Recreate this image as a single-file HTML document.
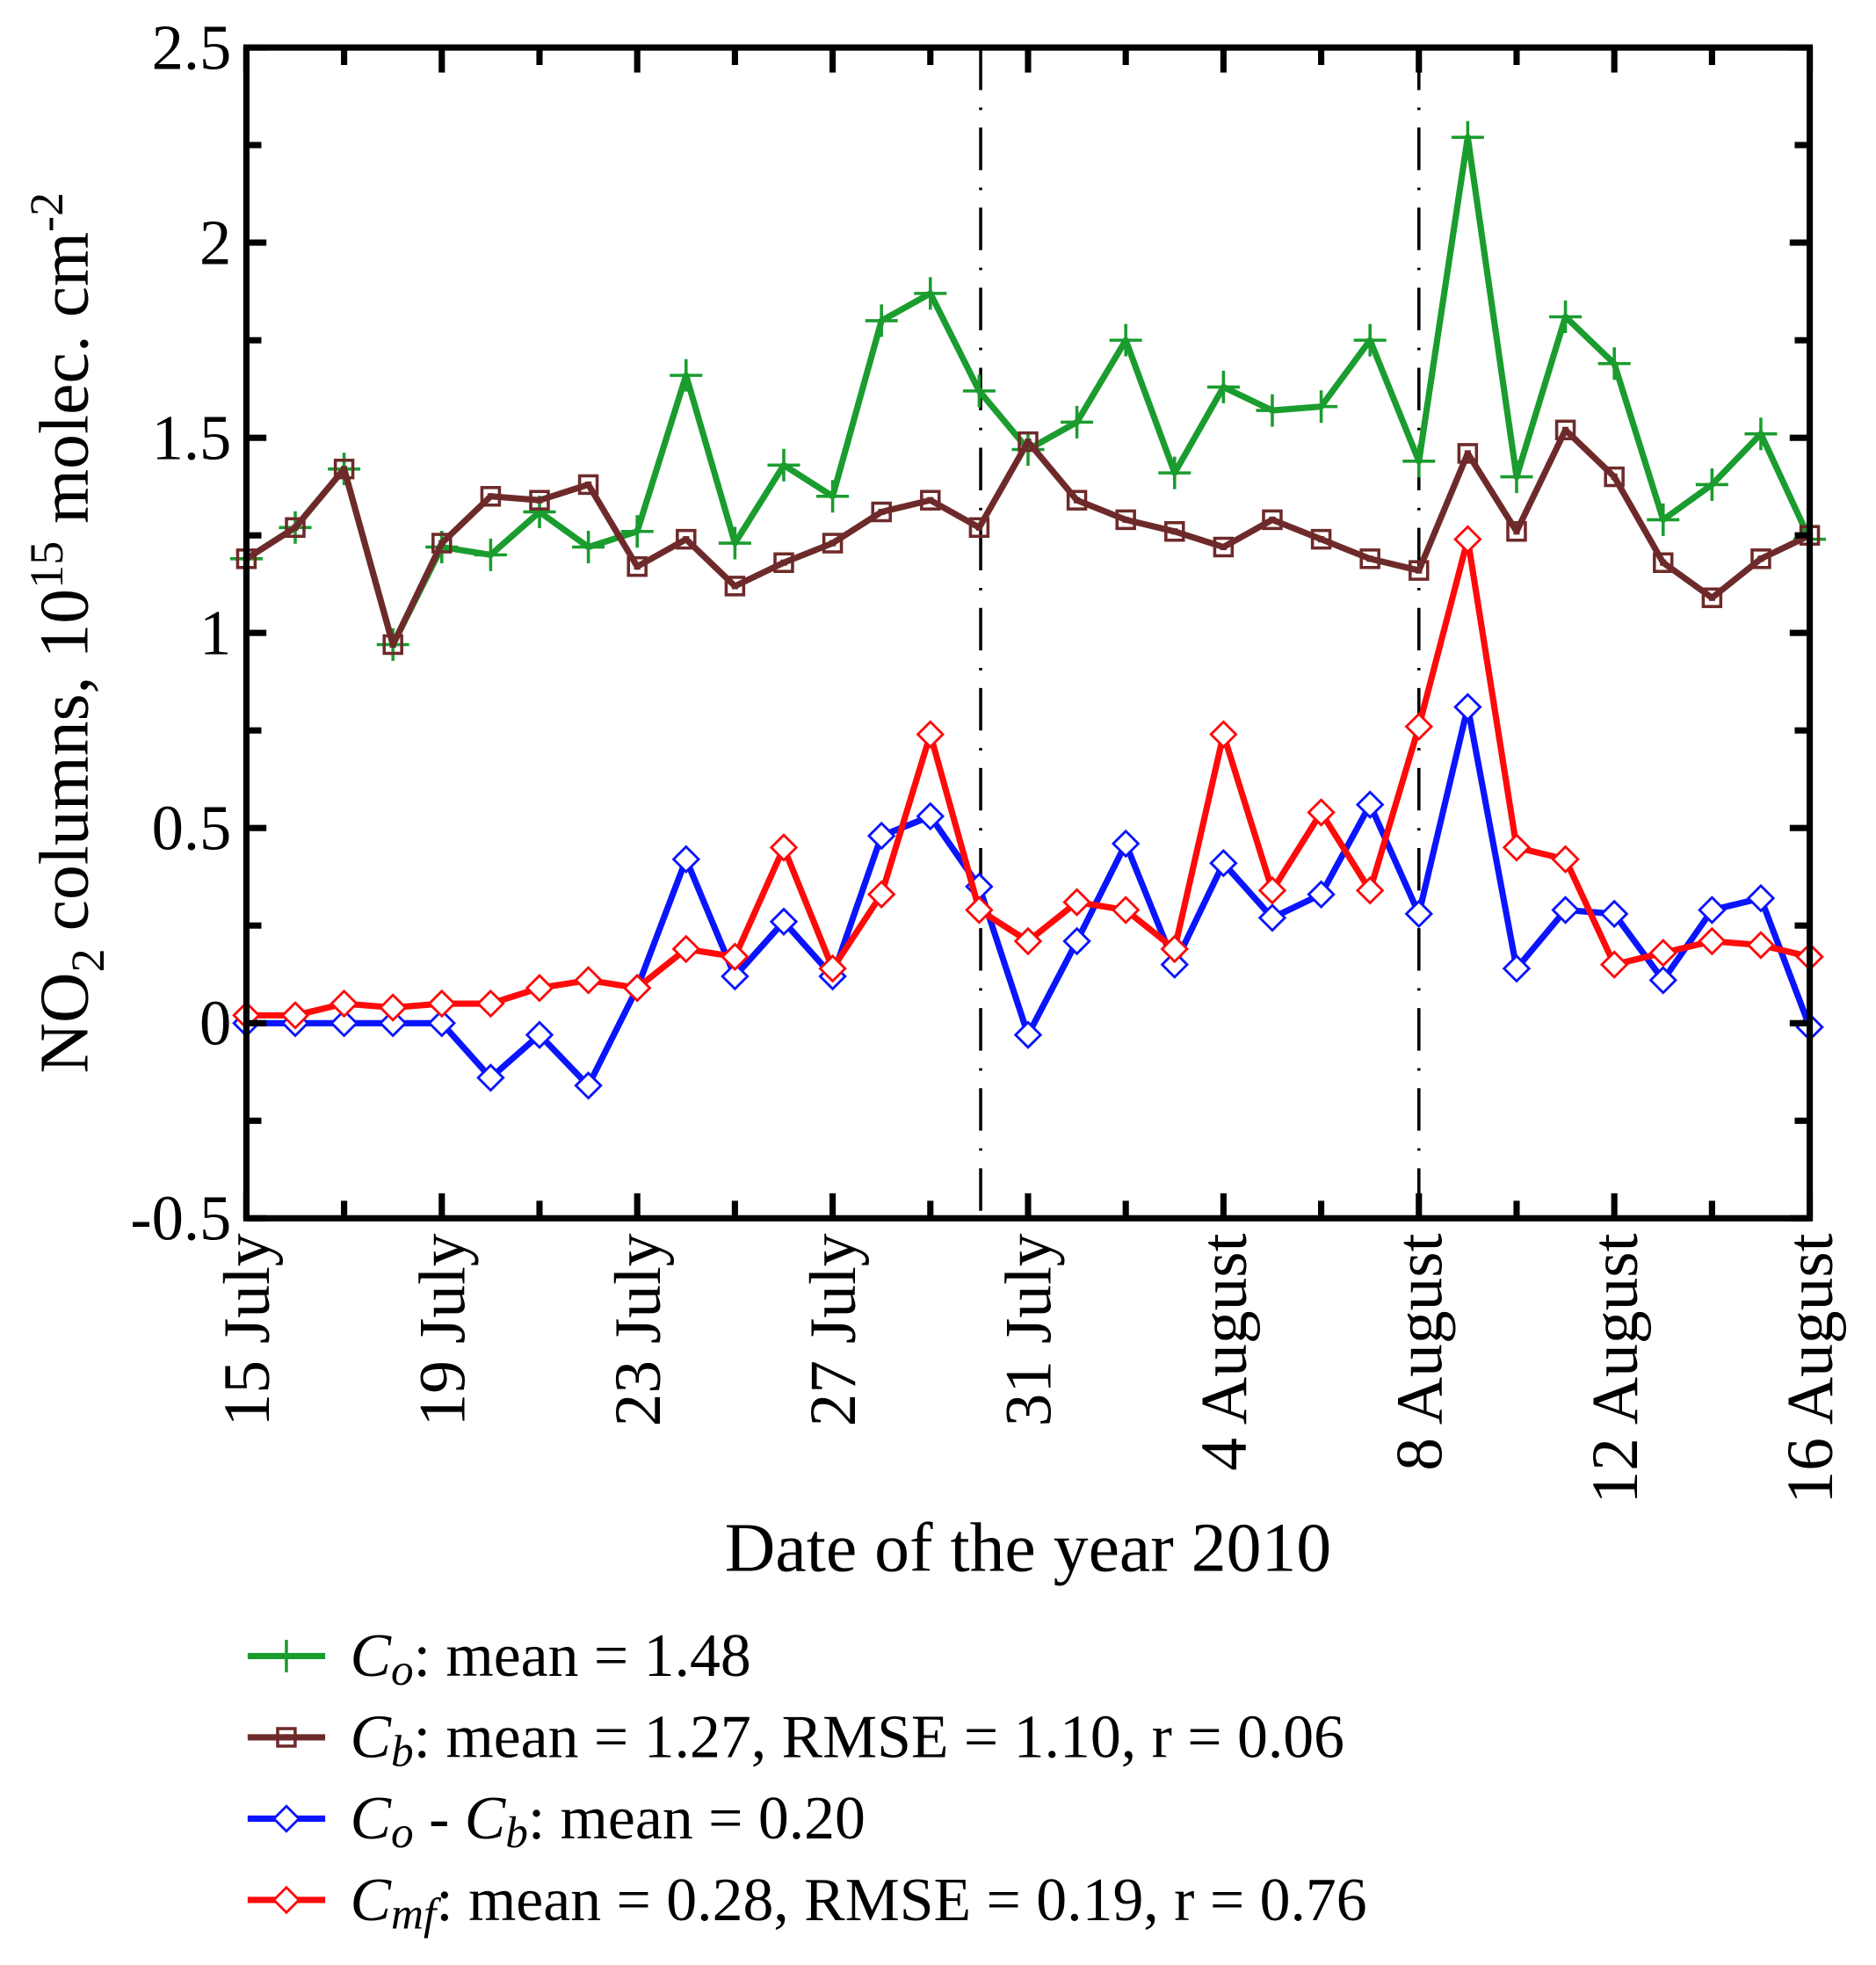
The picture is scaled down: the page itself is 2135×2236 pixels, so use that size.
<!DOCTYPE html>
<html><head><meta charset="utf-8"><style>
html,body{margin:0;padding:0;background:#fff}
svg{display:block}
text{font-family:"Liberation Serif",serif;fill:#000}
</style></head><body>
<svg id="chart" width="2135" height="2236" viewBox="0 0 1500 1571" preserveAspectRatio="none" xmlns="http://www.w3.org/2000/svg">
<g id="grid"></g>
<g id="series"></g>
<g id="axes"></g>
<g id="legend"></g>
</svg>
<script>
const days = Array.from({length:33},(_,i)=>i);
const xTickLabels = ["15 July","19 July","23 July","27 July","31 July","4 August","8 August","12 August","16 August"];
const yTicks = [-0.5,0,0.5,1,1.5,2,2.5];
const yTickLabels = ["-0.5","0","0.5","1","1.5","2","2.5"];
const co = [1.19,1.27,1.42,0.97,1.22,1.20,1.31,1.22,1.26,1.66,1.23,1.43,1.35,1.80,1.87,1.62,1.47,1.54,1.75,1.41,1.63,1.57,1.58,1.75,1.44,2.27,1.40,1.81,1.69,1.29,1.38,1.51,1.24];
const cb = [1.19,1.27,1.42,0.97,1.23,1.35,1.34,1.38,1.17,1.24,1.12,1.18,1.23,1.31,1.34,1.27,1.49,1.34,1.29,1.26,1.22,1.29,1.24,1.19,1.16,1.46,1.26,1.52,1.40,1.18,1.09,1.19,1.25];
const diff = [0,0,0,0,0,-0.14,-0.03,-0.16,0.09,0.42,0.12,0.26,0.12,0.48,0.53,0.35,-0.03,0.21,0.46,0.15,0.41,0.27,0.33,0.56,0.28,0.81,0.14,0.29,0.28,0.11,0.29,0.32,-0.01];
const cmf = [0.02,0.02,0.05,0.04,0.05,0.05,0.09,0.11,0.09,0.19,0.17,0.45,0.14,0.33,0.74,0.29,0.21,0.31,0.29,0.19,0.74,0.34,0.54,0.34,0.76,1.24,0.45,0.42,0.15,0.18,0.21,0.20,0.17];
const vlines = [15.03,24];

const L=197,R=1447,T=38,B=974;
const X=d=>L+(R-L)*d/32;
const Y=v=>B-(v+0.5)/3*(B-T);
const NS="http://www.w3.org/2000/svg";
function mk(tag,attrs,parent){const e=document.createElementNS(NS,tag);for(const k in attrs)e.setAttribute(k,attrs[k]);parent.appendChild(e);return e;}
const axes=document.getElementById('axes'),ser=document.getElementById('series'),grid=document.getElementById('grid'),leg=document.getElementById('legend');

vlines.forEach(d=>{const l=mk('line',{x1:X(d),x2:X(d),y1:T,y2:B,stroke:'#000','stroke-width':2.5,'stroke-dasharray':'34,14,2,14'},grid);

});

function marker(type,x,y,color,g){
 if(type==='plus'){mk('path',{d:`M${x-13},${y}H${x+13}M${x},${y-13}V${y+13}`,stroke:color,'stroke-width':2.5,fill:'none'},g);}
 else if(type==='square'){mk('rect',{x:x-7,y:y-7,width:14,height:14,stroke:color,'stroke-width':2.5,fill:'none'},g);mk('rect',{x:x-2.5,y:y-2.5,width:5,height:5,fill:color},g);}
 else {mk('path',{d:`M${x},${y-10}L${x+10},${y}L${x},${y+10}L${x-10},${y}Z`,stroke:color,'stroke-width':2,fill:'#fff'},g);}
}
function drawSeries(vals,color,type,name){
 const g=mk('g',{},ser);
 
 
 mk('polyline',{points:vals.map((v,i)=>X(days[i])+','+Y(v)).join(' '),fill:'none',stroke:color,'stroke-width':5,'stroke-linejoin':'round'},g);
 vals.forEach((v,i)=>marker(type,X(days[i]),Y(v),color,g));
}
drawSeries(co,'#1a9c2e','plus','series-co');
drawSeries(cb,'#6e2a2a','square','series-cb');
drawSeries(diff,'#0a14ff','diamond','series-co-minus-cb');
drawSeries(cmf,'#ff0a0a','diamond','series-cmf');

const fr=mk('rect',{x:L,y:T,width:R-L,height:B-T,fill:'none',stroke:'#000','stroke-width':5},axes);


for(let v=-0.5;v<=2.5001;v+=0.25){const maj=Math.abs(v*2-Math.round(v*2))<1e-6;const len=maj?16:12;
 mk('line',{x1:L,x2:L+len,y1:Y(v),y2:Y(v),stroke:'#000','stroke-width':5},axes);
 mk('line',{x1:R,x2:R-len,y1:Y(v),y2:Y(v),stroke:'#000','stroke-width':5},axes);}
yTicks.forEach((v,i)=>{const t=mk('text',{x:L-12,y:Y(v)+17,'text-anchor':'end','font-size':51},axes);t.textContent=yTickLabels[i];
 
 });
for(let d=0;d<=32;d+=2){const len=d%4===0?20:14;
 mk('line',{x1:X(d),x2:X(d),y1:B,y2:B-len,stroke:'#000','stroke-width':5},axes);
 mk('line',{x1:X(d),x2:X(d),y1:T,y2:T+len,stroke:'#000','stroke-width':5},axes);}
xTickLabels.forEach((s,i)=>{const x=X(i*4)+18,y=B+12;const t=mk('text',{x:x,y:y,'text-anchor':'end','font-size':53,transform:`rotate(-90 ${x} ${y})`},axes);t.textContent=s;
 
 });
const xt=mk('text',{x:822,y:1256,'text-anchor':'middle','font-size':56},axes);xt.textContent='Date of the year 2010';


const yt=mk('text',{x:0,y:0,'text-anchor':'middle','font-size':56,transform:'translate(70 506) rotate(-90)'},axes);
yt.innerHTML='NO<tspan font-size="38" dy="13">2</tspan><tspan dy="-13"> columns, 10</tspan><tspan font-size="38" dy="-20">15</tspan><tspan dy="20"> molec. cm</tspan><tspan font-size="38" dy="-20">-2</tspan>';



const legItems=[
 ['#1a9c2e','plus','<tspan font-style="italic">C<tspan font-size="36" dy="7">o</tspan></tspan><tspan dy="-7">: mean = 1.48</tspan>','legend-entry-co'],
 ['#6e2a2a','square','<tspan font-style="italic">C<tspan font-size="36" dy="7">b</tspan></tspan><tspan dy="-7">: mean = 1.27, RMSE = 1.10, r = 0.06</tspan>','legend-entry-cb'],
 ['#0a14ff','diamond','<tspan font-style="italic">C<tspan font-size="36" dy="7">o</tspan></tspan><tspan dy="-7"> - </tspan><tspan font-style="italic">C<tspan font-size="36" dy="7">b</tspan></tspan><tspan dy="-7">: mean = 0.20</tspan>','legend-entry-diff'],
 ['#ff0a0a','diamond','<tspan font-style="italic">C<tspan font-size="36" dy="7">mf</tspan></tspan><tspan dy="-7">: mean = 0.28, RMSE = 0.19, r = 0.76</tspan>','legend-entry-cmf']];
legItems.forEach((it,i)=>{const y=1324+i*65;const g=mk('g',{},leg);
 
 
 mk('line',{x1:198,x2:260,y1:y,y2:y,stroke:it[0],'stroke-width':5},g);
 marker(it[1],229,y,it[0],g);
 const t=mk('text',{x:280,y:y+16,'font-size':49},g);t.innerHTML=it[2];});
</script>
</body></html>
